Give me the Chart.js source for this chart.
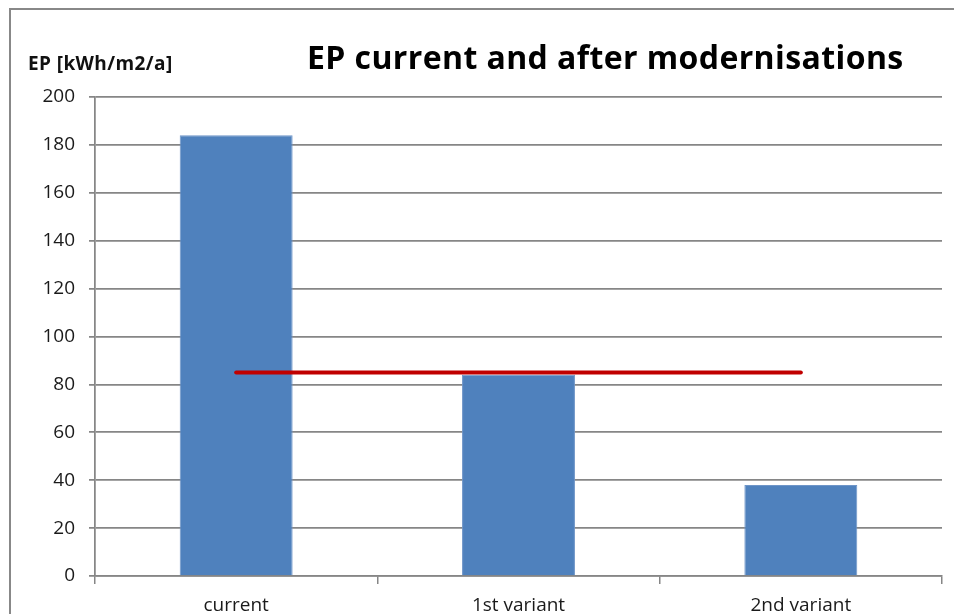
<!DOCTYPE html>
<html><head><meta charset="utf-8">
<script src="https://cdn.jsdelivr.net/npm/chart.js@4"></script>
<style>
html,body{margin:0;padding:0;background:#fff;}
#wrap{position:relative;width:954px;height:614px;overflow:hidden;}
#frame{position:absolute;left:9px;top:8px;width:1000px;height:700px;border-left:2px solid #888;border-top:2px solid #888;}
canvas{position:absolute;left:0;top:0;}
</style></head><body>
<div id="wrap"><div id="frame"></div><canvas id="c" width="954" height="614"></canvas></div>
<script>
const categories = ["current", "1st variant", "2nd variant"];
const epValues = [184, 84, 38];
const limitValues = [85, 85, 85];
const yTicks = {min: 0, max: 200, step: 20};
const titleText = "EP current and after modernisations";
const yAxisTitle = "EP [kWh/m2/a]";

const textPlugin = {
  id: 'texts',
  afterDraw(chart) {
    const ctx = chart.ctx;
    ctx.save();
    ctx.fillStyle = '#000';
    ctx.textBaseline = 'middle';
    ctx.font = 'bold 32px "Open Sans"';
    ctx.letterSpacing = '0.4px';
    ctx.textAlign = 'left';
    ctx.fillText(titleText, 307, 60);
    ctx.font = 'bold 19px "Open Sans"';
    ctx.letterSpacing = '0.4px';
    ctx.fillStyle = '#111';
    ctx.fillText(yAxisTitle, 28, 65);
    ctx.restore();
  }
};

new Chart(document.getElementById('c'), {
  data: {
    labels: categories,
    datasets: [
      {type: 'line', data: limitValues, borderColor: '#C00000', borderWidth: 4, pointRadius: 0, borderCapStyle: 'round', fill: false, order: 0},
      {type: 'bar', data: epValues, backgroundColor: '#4F81BD', borderColor: '#6E95C8', borderWidth: 1, categoryPercentage: 1, barPercentage: 0.4, order: 1}
    ]
  },
  options: {
    responsive: false,
    animation: false,
    layout: {padding: {top: 97, right: 12, left: 0, bottom: 0}},
    plugins: {legend: {display: false}, tooltip: {enabled: false}, title: {display: false}},
    scales: {
      x: {
        afterFit(s) { s.height = 38; },
        grid: {offset: true, drawOnChartArea: false, drawTicks: true, tickLength: 8, color: '#868686', lineWidth: 1.5},
        border: {color: '#868686', width: 1.5},
        ticks: {padding: 10, color: '#1a1a1a', font: {family: 'Open Sans', size: 19}}
      },
      y: {
        min: yTicks.min, max: yTicks.max,
        afterFit(s) { s.width = 95; },
        grid: {color: '#868686', lineWidth: 1.75, tickLength: 6},
        border: {color: '#868686', width: 1.75},
        ticks: {stepSize: yTicks.step, padding: 14, color: '#1a1a1a', font: {family: 'Open Sans', size: 19}}
      }
    }
  },
  plugins: [textPlugin]
});
</script>
</body></html>
